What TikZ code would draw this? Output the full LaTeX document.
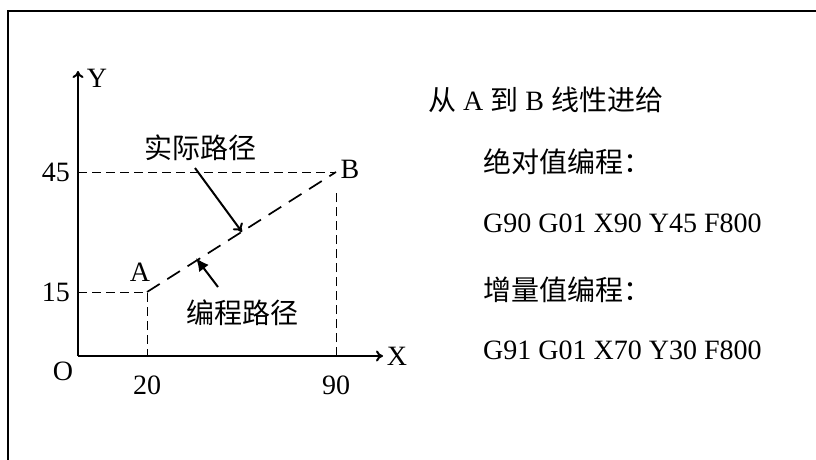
\documentclass[tikz,border=0pt]{standalone}
\usepackage{fontspec}
\setmainfont{Liberation Serif}
\newfontfamily\cjk{Noto Sans CJK SC}
\usetikzlibrary{arrows.meta,positioning}

\begin{document}
\begin{tikzpicture}[x=1pt,y=-1pt,
    every node/.style={font=\fontsize{28}{33}\selectfont,inner sep=0pt},
    axis/.style={line width=2pt,-{To[length=7pt,width=11pt]}},
    guide/.style={line width=1pt,dash pattern=on 9pt off 5pt},
    path/.style={line width=1.7pt,dash pattern=on 15pt off 9pt},
    pointer/.style={line width=2pt}]
  \useasboundingbox (0,0) rectangle (816,460);
  \draw[line width=2.2pt] (8,460) -- (8,11) -- (816,11);
  % axes
  \coordinate (O) at (78,356);
  \coordinate (Xend) at (383,356);
  \coordinate (Yend) at (78,71);
  \coordinate (A) at (147,292);
  \coordinate (B) at (336,172);
  \coordinate (A0) at (147,356);
  \coordinate (B0) at (336,356);
  \coordinate (A1) at (78,292);
  \coordinate (B1) at (78,172);
  \draw[axis] (O) -- (Xend);
  \draw[axis] (O) -- (Yend);
  \node (x) at (397,356) {X};
  \node (y) at (97,78) {Y};
  \node (o) at (63,371) {O};
  \node (t20) at (147,385) {20};
  \node (t90) at (336,385) {90};
  \node[anchor=east] (t15) at (70,292) {15};
  \node[anchor=east] (t45) at (70,172) {45};
  \draw[guide] (A1) -- (A) -- (A0);
  \draw[guide] (B1) -- (B);
  \draw[guide] (B0) -- (336,192);
  \draw[path] (A) -- (B);
  \node (a) at (140,272) {A};
  \node (b) at (350,169) {B};
  % labels
  \node (real) at (200,148) {\cjk 实际路径};
  \node (prog) at (242,313) {\cjk 编程路径};
  \coordinate (p1) at (195,168);
  \coordinate (q1) at (242,232);
  \coordinate (p2) at (218,287);
  \coordinate (q2) at (196,258);
  \draw[pointer,-{To[length=8pt,width=12pt]}] (p1) -- (q1);
  \draw[pointer,-{Latex[length=13pt,width=12pt]}] (p2) -- (q2);
  % right text
  \node[anchor=west] (l1) at (428,100) {{\cjk 从} A {\cjk 到} B {\cjk 线性进给}};
  \node[anchor=west] (l2) at (483,162) {\cjk 绝对值编程：};
  \node[anchor=west] (l3) at (483,223) {G90 G01 X90 Y45 F800};
  \node[anchor=west] (l4) at (483,290) {\cjk 增量值编程：};
  \node[anchor=west] (l5) at (483,350) {G91 G01 X70 Y30 F800};
\end{tikzpicture}
\end{document}
